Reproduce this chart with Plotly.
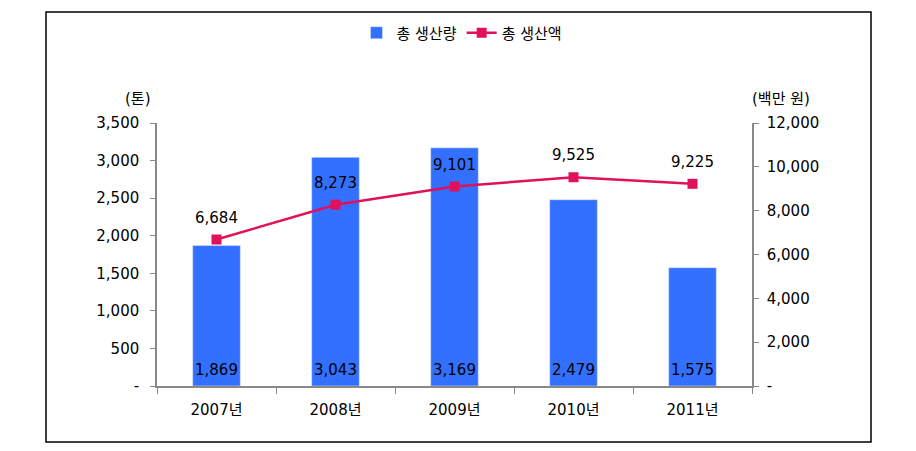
import plotly.graph_objects as go

years = ["2007년", "2008년", "2009년", "2010년", "2011년"]
production = [1869, 3043, 3169, 2479, 1575]
value = [6684, 8273, 9101, 9525, 9225]
left_ticks = [0, 500, 1000, 1500, 2000, 2500, 3000, 3500]
left_text = ["-", "500", "1,000", "1,500", "2,000", "2,500", "3,000", "3,500"]
right_ticks = [0, 2000, 4000, 6000, 8000, 10000, 12000]
right_text = ["-", "2,000", "4,000", "6,000", "8,000", "10,000", "12,000"]

FONT = "DejaVu Sans, Noto Sans CJK KR"
BAR = "#3370FF"
LINE = "#E0105A"
AX = "#888888"

OFF = 8  # page body margin offset
L, R, T, B = 157 - OFF, 752 - OFF, 123 - OFF, 386 - OFF
W, H = R - L, B - T

fig = go.Figure()
fig.add_trace(go.Bar(
    x=years, y=production, name="총 생산량", marker_color=BAR, width=0.4,
))
fig.add_trace(go.Scatter(
    x=years, y=value, name="총 생산액", yaxis="y2", mode="lines+markers",
    line=dict(color=LINE, width=2.5),
    marker=dict(symbol="square", size=10, color=LINE),
))
for yr, v in zip(years, production):
    fig.add_annotation(x=yr, y=0, yref="y", text=f"{v:,}", showarrow=False,
                       yshift=16, font=dict(family=FONT, size=15, color="black"))
for yr, v in zip(years, value):
    fig.add_annotation(x=yr, y=v, yref="y2", text=f"{v:,}", showarrow=False,
                       yshift=22, font=dict(family=FONT, size=15, color="black"))

fig.update_layout(
    width=916, height=451,
    margin=dict(l=L, r=916 - R, t=T, b=451 - B, autoexpand=False),
    paper_bgcolor="white", plot_bgcolor="white",
    font=dict(family=FONT, size=15, color="black"),
    showlegend=True,
    legend=dict(orientation="h", x=(462 - OFF - L) / W, xanchor="center",
                y=(B - (33 - OFF)) / H, yanchor="middle",
                font=dict(family=FONT, size=15), traceorder="normal"),
    bargap=0.6,
    xaxis=dict(showline=True, linecolor=AX, linewidth=1.5, ticks="outside",
               tickson="boundaries", ticklen=6, tickcolor=AX, showgrid=False,
               tickfont=dict(family=FONT, size=15), ticklabelstandoff=9),
    yaxis=dict(range=[0, 3500], tickvals=left_ticks, ticktext=left_text,
               showline=True, linecolor=AX, linewidth=1.5, ticks="outside",
               ticklen=5, tickcolor=AX, showgrid=False, zeroline=False,
               tickfont=dict(family=FONT, size=15), ticklabelstandoff=8),
    yaxis2=dict(range=[0, 12000], tickvals=right_ticks, ticktext=right_text,
                overlaying="y", side="right",
                showline=True, linecolor=AX, linewidth=1.5, ticks="outside",
                ticklen=5, tickcolor=AX, showgrid=False, zeroline=False,
                tickfont=dict(family=FONT, size=15), ticklabelstandoff=5),
)
fig.add_annotation(xref="paper", yref="paper", x=(138 - OFF - L) / W,
                   y=(B - (99 - OFF)) / H, xanchor="center", yanchor="middle",
                   text="(톤)", showarrow=False, font=dict(family=FONT, size=15))
fig.add_annotation(xref="paper", yref="paper", x=(781 - OFF - L) / W,
                   y=(B - (99 - OFF)) / H, xanchor="center", yanchor="middle",
                   text="(백만 원)", showarrow=False, font=dict(family=FONT, size=15))
fig.add_shape(type="rect", xref="paper", yref="paper",
              x0=(46 - OFF - L) / W, x1=(871 - OFF - L) / W,
              y0=(B - (442 - OFF)) / H, y1=(B - (12 - OFF)) / H,
              line=dict(color="black", width=1.5), layer="below")

fig.write_html("out.html")
